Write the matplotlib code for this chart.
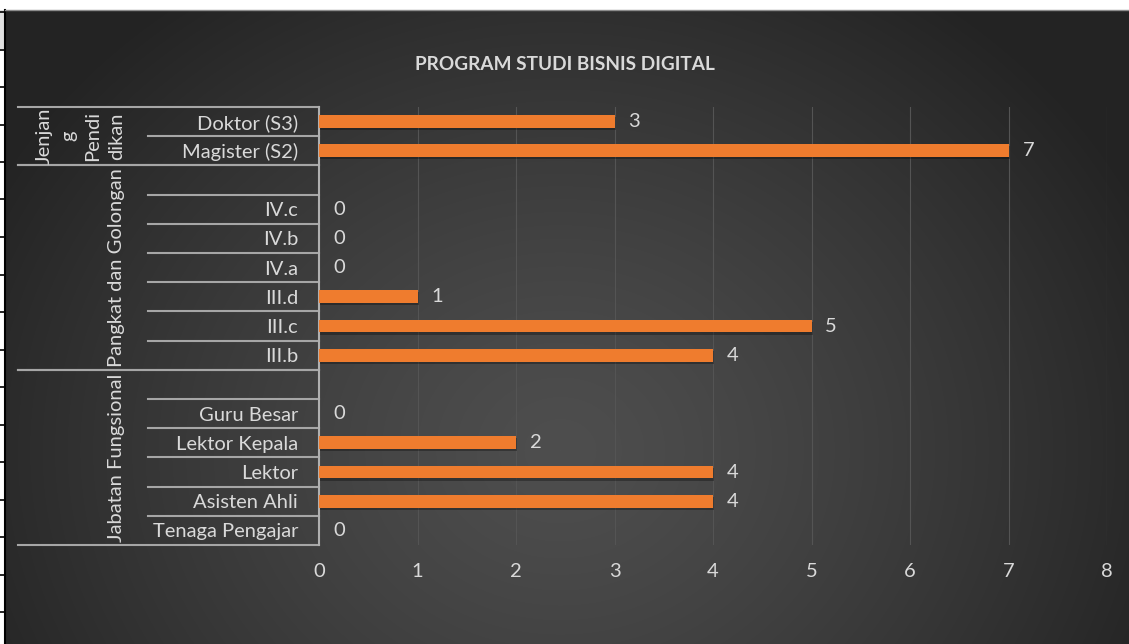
import numpy as np
import matplotlib
matplotlib.use("Agg")
import matplotlib.pyplot as plt
import matplotlib.patheffects as pe
from matplotlib.patches import Rectangle
from matplotlib.transforms import blended_transform_factory

plt.rcParams['font.family'] = ['Lato', 'DejaVu Sans']

# Data (top to bottom as shown in the chart)
title = "PROGRAM STUDI BISNIS DIGITAL"
group_names = ["Jenjan\ng\nPendi\ndikan", "Pangkat dan Golongan", "Jabatan Fungsional"]
jenjang_labels = ["Doktor (S3)", "Magister (S2)"]
jenjang_values = [3, 7]
pangkat_labels = ["", "IV.c", "IV.b", "IV.a", "III.d", "III.c", "III.b"]
pangkat_values = [None, 0, 0, 0, 1, 5, 4]
jabatan_labels = ["", "Guru Besar", "Lektor Kepala", "Lektor", "Asisten Ahli", "Tenaga Pengajar"]
jabatan_values = [None, 0, 2, 4, 4, 0]
x_ticks = [0, 1, 2, 3, 4, 5, 6, 7, 8]

groups = [(jenjang_labels, jenjang_values),
          (pangkat_labels, pangkat_values),
          (jabatan_labels, jabatan_values)]

labels = []
values = []
group_bounds = []
for lab, val in groups:
    start = len(labels)
    labels += lab
    values += val
    group_bounds.append((start, len(labels)))

W, H = 1129, 644
FS = 14.5
fig = plt.figure(figsize=(W / 100, H / 100), dpi=100)
fig.patch.set_facecolor('white')

# Background radial gradient (chart area)
bg = fig.add_axes([5 / W, 0, 1 - 5 / W, 1 - 10 / H], zorder=-10)
yy, xx = np.mgrid[10:H, 5:W]
d = np.sqrt((xx - 560.0) ** 2 + ((yy - 450.0) * 1.15) ** 2) / 650.0
t = np.clip(d, 0, 1) ** 1.3
c0, c1 = 0x4e / 255, 0x23 / 255
img = c0 + (c1 - c0) * t
bg.imshow(np.dstack([img, img, img]), aspect='auto', extent=(0, 1, 0, 1))
bg.set_axis_off()

# spreadsheet leftovers on the left side
fig.patches.append(Rectangle((0, 1 - 49 / H), 5 / W, 39 / H, transform=fig.transFigure,
                             facecolor='#e0e0e0', edgecolor='none'))
for yp in np.arange(12, H, 37.5):
    fig.add_artist(plt.Line2D([0, 5 / W], [1 - yp / H] * 2, transform=fig.transFigure,
                              color='black', lw=1.2))
fig.add_artist(plt.Line2D([5 / W] * 2, [0, 1 - 10 / H], transform=fig.transFigure,
                          color='black', lw=1.5))
fig.add_artist(plt.Line2D([5 / W, 1], [1 - 10 / H] * 2, transform=fig.transFigure,
                          color='#8c8c8c', lw=1))

ax = fig.add_axes([319 / W, 1 - 545 / H, 788 / W, 438 / H])
ax.patch.set_alpha(0)

y = np.arange(len(labels))
bar_vals = [v if v is not None else 0 for v in values]
bars = ax.barh(y, bar_vals, height=0.445, color='#ef7c2e', zorder=3)
for b in bars:
    b.set_path_effects([pe.SimplePatchShadow(offset=(1, -1.5), shadow_rgbFace='black', alpha=0.3),
                        pe.Normal()])

for yi, v in zip(y, values):
    if v is None:
        continue
    ax.annotate(str(v), (v, yi), xytext=(10, 0), textcoords='offset points',
                va='center', ha='left', color='#d9d9d9', fontsize=FS)

ax.set_xlim(0, 8)
ax.set_ylim(len(labels) - 0.5, -0.5)
ax.set_xticks(x_ticks)
ax.set_xticklabels([str(v) for v in x_ticks])
ax.set_yticks(y)
ax.set_yticklabels(labels)
ax.tick_params(axis='both', length=0, colors='#d9d9d9', labelsize=FS)
ax.tick_params(axis='y', pad=15)
ax.tick_params(axis='x', pad=13)
ax.grid(axis='x', color='#545454', lw=0.8, zorder=0)
for s in ['top', 'right', 'bottom']:
    ax.spines[s].set_visible(False)
ax.spines['left'].set_color('#b0b0b0')
ax.spines['left'].set_linewidth(1.5)

# multi-level category axis lines
tr = blended_transform_factory(ax.transAxes, ax.transData)
inner_x = (148 - 319) / 788
outer_x = (18 - 319) / 788
for i, (s, e) in enumerate(group_bounds):
    for k in range(s + 1, e):
        ax.plot([inner_x, 0], [k - 0.5, k - 0.5], transform=tr, clip_on=False,
                color='#a6a6a6', lw=1.5)
    for k in (s, e):
        ax.plot([outer_x, 0], [k - 0.5, k - 0.5], transform=tr, clip_on=False,
                color='#a6a6a6', lw=1.5)
    ax.text((125 - 319) / 788, (s + e - 1) / 2, group_names[i], transform=tr,
            rotation=90, ha='right', va='center', multialignment='center',
            color='#d9d9d9', fontsize=FS, linespacing=1.5)

fig.text(565 / W, 1 - 64 / H, title, ha='center', va='center', fontsize=13.7,
         fontweight='bold', color='#d9d9d9')

fig.savefig('out.png', dpi=100, facecolor=fig.get_facecolor())
